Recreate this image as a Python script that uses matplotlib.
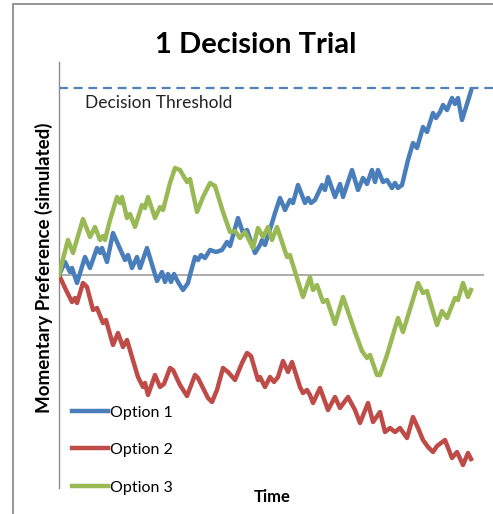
import matplotlib
matplotlib.use("Agg")
import matplotlib.pyplot as plt
from matplotlib.patches import Rectangle

# ---- data (time units, preference units) ----
t1 = [0, 6, 11, 13, 18, 26, 31, 38, 41, 43, 48, 54, 66, 69, 73, 78, 81, 88, 98, 103, 106, 109, 112, 115, 119, 124,
      129, 131, 136, 139, 142, 146, 151, 157, 163, 168, 171, 179, 184, 188, 196, 201, 203, 206, 213, 216, 221, 226,
      231, 234, 239, 246, 249, 252, 256, 263, 266, 269, 276, 281, 284, 293, 299, 304, 308, 313, 316, 319, 324, 328,
      333, 336, 339, 343, 349, 354, 358, 364, 368, 374, 377, 381, 384, 388, 393, 396, 399, 403, 412]
v1 = [0, 13, 3, 7, -8, 18, 7, 27, 22, 27, 13, 42, 15, 20, 7, 18, 7, 27, -6, 3, -7, 1, -7, 1, -7, -15,
      -8, 0, 18, 15, 20, 17, 25, 23, 25, 33, 29, 57, 42, 45, 22, 30, 35, 30, 52, 62, 77, 65,
      75, 72, 90, 72, 77, 72, 75, 90, 85, 98, 78, 91, 78, 105, 85, 97, 91, 105, 93, 105, 93, 95,
      87, 92, 87, 90, 115, 132, 127, 148, 143, 162, 157, 163, 170, 165, 177, 171, 177, 155, 184]

t2 = [0, 7, 13, 16, 18, 24, 28, 34, 38, 44, 47, 54, 59, 64, 68, 76, 79, 84, 86, 89, 96, 101, 105, 111, 114, 121,
      128, 136, 139, 144, 149, 153, 158, 164, 169, 176, 183, 188, 192, 199, 201, 206, 211, 215, 219, 224, 229, 233,
      241, 244, 248, 251, 254, 261, 269, 276, 281, 289, 296, 301, 309, 314, 321, 326, 331, 336, 341, 348, 354, 359,
      364, 369, 374, 378, 386, 393, 398, 404, 409, 412]
v2 = [0, -15, -27, -23, -28, -8, -12, -35, -33, -48, -45, -70, -58, -72, -65, -92, -102, -112, -108, -120, -100,
      -112, -109, -93, -95, -110, -121, -100, -103, -113, -123, -127, -115, -93, -97, -105, -88, -78, -81, -105,
      -102, -112, -102, -107, -102, -86, -97, -87, -112, -118, -115, -120, -128, -113, -135, -122, -133, -122,
      -135, -148, -128, -147, -137, -157, -153, -157, -153, -163, -142, -153, -165, -172, -177, -171, -165, -183,
      -177, -190, -178, -184]

t3 = [0, 5, 9, 14, 24, 31, 36, 41, 44, 46, 51, 58, 61, 63, 68, 71, 76, 83, 86, 89, 96, 101, 104, 111, 116, 121,
      128, 131, 138, 144, 151, 156, 164, 171, 176, 181, 186, 194, 199, 204, 209, 213, 218, 228, 231, 233, 244, 251,
      254, 258, 264, 268, 276, 284, 296, 303, 308, 311, 318, 321, 328, 339, 344, 359, 364, 368, 378, 383, 388, 396,
      399, 404, 409, 412]
v3 = [0, 20, 35, 22, 56, 38, 48, 35, 39, 35, 55, 78, 72, 78, 57, 61, 48, 70, 67, 78, 57, 68, 65, 92, 107, 105,
      93, 96, 63, 78, 92, 89, 63, 43, 44, 37, 43, 27, 47, 38, 48, 35, 48, 18, 20, 13, -22, -2,
      -15, -10, -27, -25, -49, -22, -57, -76, -83, -80, -100, -100, -80, -43, -57, -8, -18, -16, -50, -36, -43, -23,
      -25, -8, -22, -15]

series_names = ["Option 1", "Option 2", "Option 3"]
series_colors = ["#4A7EBB", "#BE4B48", "#98B954"]
threshold = 187
threshold_label = "Decision Threshold"
title = "1 Decision Trial"
xlabel = "Time"
ylabel = "Momentary Preference (simulated)"

W, H = 493, 514
fig = plt.figure(figsize=(W / 100, H / 100), dpi=100)
fig.patch.set_facecolor("white")

# outer chart frame (extends past right/bottom edges)
fig.patches.append(Rectangle((13 / W, -0.1), 1.2, 1 - 4 / H + 0.1, transform=fig.transFigure,
                             fill=False, edgecolor="#8C8C8C", linewidth=1.3))

ax = fig.add_axes([59 / W, 1 - 488 / H, (484 - 59) / W, (488 - 62) / H])
ax.set_xlim(0, 425)
ax.set_ylim(-213, 213)
for s in ["top", "right", "bottom"]:
    ax.spines[s].set_visible(False)
ax.spines["left"].set_color("#8C8C8C")
ax.spines["left"].set_linewidth(1.0)
ax.set_xticks([])
ax.set_yticks([])

ax.axhline(0, color="#A6A6A6", linewidth=1.3, zorder=1)

for t, v, name, c in zip([t1, t2, t3], [v1, v2, v3], series_names, series_colors):
    ax.plot(t, v, color=c, linewidth=3.2, label=name, solid_joinstyle="round", zorder=3)

ax.axhline(threshold, xmin=0, xmax=1.03, color="#4F81BD", linewidth=1.6,
           linestyle=(0, (4, 2.6)), clip_on=False, zorder=2)

font = "Lato"
ax.text(26, threshold - 15, threshold_label, fontsize=12.5, family=font, color="#222222",
        ha="left", va="center")

fig.text(256 / W, 1 - 45 / H, title, fontsize=21, fontweight="bold", family=font,
         ha="center", va="center", color="black")
fig.text(44 / W, 1 - 268 / H, ylabel, fontsize=13.5, fontweight="bold", family=font,
         rotation=90, ha="center", va="center", color="black")
fig.text(272 / W, 1 - 497 / H, xlabel, fontsize=12, fontweight="bold", family=font,
         ha="center", va="center", color="black")

leg = ax.legend(loc="upper left", bbox_to_anchor=(0.015, 0.209), frameon=False,
                prop={"family": font, "size": 11.5}, handlelength=2.25, handletextpad=0.15,
                labelspacing=1.46, borderaxespad=0)
for h in leg.legend_handles:
    h.set_linewidth(3.2)

fig.savefig("out.png", dpi=100)
